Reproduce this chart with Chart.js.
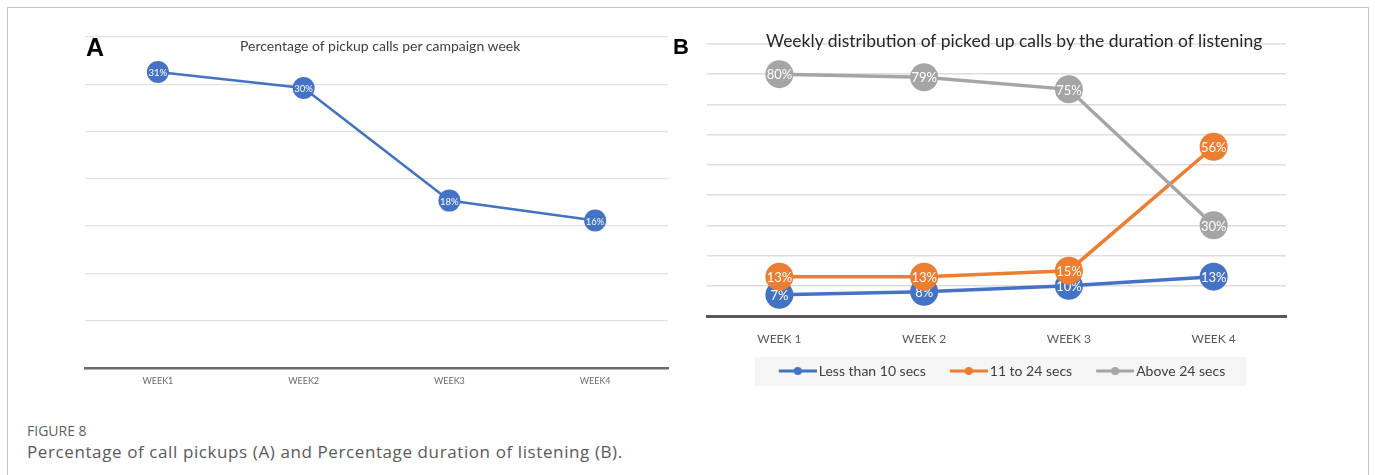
<!DOCTYPE html>
<html>
<head>
<meta charset="utf-8">
<script src="https://cdn.jsdelivr.net/npm/chart.js@4.4.1/dist/chart.umd.min.js"></script>
<style>
    body { margin: 0; background: #fff; width: 1375px; height: 475px; overflow: hidden; position: relative; font-family: Lato, sans-serif; }
    #frame { position: absolute; left: 7px; top: 7px; width: 1362px; height: 490px; border: 1px solid #c4c4c4; box-sizing: border-box; }
    canvas { position: absolute; }
    .txt { position: absolute; white-space: nowrap; line-height: 1; }
    .panel { font-family: "Liberation Sans", Arial, sans-serif; font-weight: bold; color: #000; }
</style>
</head>
<body>
<div id="frame"></div>

<canvas id="chartA" width="606" height="370" style="left:74px; top:26px;"></canvas>
<canvas id="chartB" width="610" height="358" style="left:690px; top:30px;"></canvas>

<div class="txt panel" style="left:86px; top:35px; font-size:25px;">A</div>
<div class="txt" style="left:240px; top:39px; font-size:14px; color:#404040;">Percentage of pickup calls per campaign week</div>
<div class="txt panel" style="left:673px; top:36px; font-size:22px;">B</div>
<div class="txt" style="left:766px; top:32px; font-size:17.5px; color:#262626;">Weekly distribution of picked up calls by the duration of listening</div>

<div class="txt" style="left:27px; top:424px; font-family:'Open Sans'; font-size:14px; color:#5f5f5f;">FIGURE 8</div>
<div class="txt" style="left:27px; top:443px; font-family:'Open Sans'; font-size:17px; letter-spacing:0.6px; color:#5a5a5a;">Percentage of call pickups (A) and Percentage duration of listening (B).</div>

<script>
// ----- data -----
const weeksA = ["WEEK1", "WEEK2", "WEEK3", "WEEK4"];
const pickupPct = [31.3, 29.6, 17.7, 15.6]; // shown rounded

const weeksB = ["WEEK 1", "WEEK 2", "WEEK 3", "WEEK 4"];
const seriesNames = ["Less than 10 secs", "11 to 24 secs", "Above 24 secs"];
const lessThan10 = [7, 8, 10, 13];
const from11to24 = [13, 13, 15, 56];
const above24 = [80, 79, 75, 30];

const BLUE = "#4472c4", ORANGE = "#ed7d31", GRAY = "#a5a5a5";

// white % labels drawn inside each marker, right after its dataset
const pointLabels = {
    id: "pointLabels",
    afterDatasetDraw(chart, args, opts) {
        const ctx = chart.ctx;
        const ds = chart.data.datasets[args.index];
        ctx.save();
        ctx.font = opts.font;
        ctx.fillStyle = "#ffffff";
        ctx.textAlign = "center";
        ctx.textBaseline = "middle";
        args.meta.data.forEach((pt, i) => {
            ctx.fillText(Math.round(ds.data[i]) + "%", pt.x, pt.y + 1);
        });
        ctx.restore();
    }
};

// light box behind the legend of chart B
const legendBox = {
    id: "legendBox",
    beforeDraw(chart) {
        const lg = chart.legend;
        if (!lg || !lg.legendHitBoxes || !lg.legendHitBoxes.length) return;
        const hb = lg.legendHitBoxes;
        const left = Math.min(...hb.map(h => h.left)) - 10;
        const right = Math.max(...hb.map(h => h.left + h.width)) + 21;
        const top = hb[0].top - 7;
        const ctx = chart.ctx;
        ctx.save();
        ctx.fillStyle = "#f5f5f5";
        ctx.fillRect(left, top, right - left, hb[0].height + 15);
        ctx.restore();
    }
};

// Excel style legend marker: line with a dot, transparent on the left for spacing
function legendMarker(color) {
    const c = document.createElement("canvas");
    c.width = 57;
    c.height = 10;
    const g = c.getContext("2d");
    g.strokeStyle = color;
    g.lineWidth = 3;
    g.beginPath();
    g.moveTo(19, 5);
    g.lineTo(57, 5);
    g.stroke();
    g.fillStyle = color;
    g.beginPath();
    g.arc(38, 5, 4, 0, Math.PI * 2);
    g.fill();
    return c;
}

// ----- chart A -----
new Chart(document.getElementById("chartA"), {
    type: "line",
    data: {
        labels: weeksA,
        datasets: [{
            data: pickupPct,
            borderColor: BLUE,
            backgroundColor: BLUE,
            borderWidth: 2.5,
            pointRadius: 11,
            pointHoverRadius: 11,
            pointBorderWidth: 0,
            tension: 0,
            clip: false
        }]
    },
    options: {
        responsive: false,
        animation: false,
        events: [],
        layout: { padding: { left: 5, right: 12, top: 10, bottom: 0 } },
        plugins: {
            legend: { display: false },
            tooltip: { enabled: false },
            pointLabels: { font: "9.5px Lato" }
        },
        scales: {
            x: {
                offset: true,
                grid: { display: false, drawTicks: false },
                border: { color: "#6a6a6a", width: 2.5 },
                ticks: { color: "#6b6b6b", font: { family: "Lato", size: 9 }, padding: 8 },
                afterFit(s) { s.height = 28; }
            },
            y: {
                min: 0,
                max: 35,
                ticks: { display: false, stepSize: 5 },
                border: { display: false },
                grid: { color: "#e2e2e2", lineWidth: 1.3, drawTicks: false },
                afterFit(s) { s.width = 0; }
            }
        }
    },
    plugins: [pointLabels]
});

// ----- chart B -----
// datasets listed top-most first so gray sits over orange over blue
new Chart(document.getElementById("chartB"), {
    type: "line",
    data: {
        labels: weeksB,
        datasets: [
            { label: seriesNames[2], data: above24, borderColor: GRAY, backgroundColor: GRAY },
            { label: seriesNames[1], data: from11to24, borderColor: ORANGE, backgroundColor: ORANGE },
            { label: seriesNames[0], data: lessThan10, borderColor: BLUE, backgroundColor: BLUE }
        ].map(d => Object.assign(d, {
            borderWidth: 3.5,
            pointRadius: 14,
            pointHoverRadius: 14,
            pointBorderWidth: 0,
            tension: 0,
            clip: false
        }))
    },
    options: {
        responsive: false,
        animation: false,
        events: [],
        layout: { padding: { left: 0, right: 0, top: 12, bottom: 0 } },
        plugins: {
            tooltip: { enabled: false },
            pointLabels: { font: "13px Lato" },
            legend: {
                position: "bottom",
                reverse: true,
                labels: {
                    color: "#404040",
                    font: { family: "Lato", size: 14 },
                    usePointStyle: true,
                    pointStyleWidth: 47,
                    padding: 10,
                    generateLabels(chart) {
                        const items = Chart.defaults.plugins.legend.labels.generateLabels(chart);
                        items.forEach(it => { it.pointStyle = legendMarker(it.strokeStyle); });
                        return items;
                    }
                }
            }
        },
        scales: {
            x: {
                offset: true,
                grid: { display: false, drawTicks: false },
                border: { color: "#595959", width: 3 },
                ticks: { color: "#595959", font: { family: "Lato", size: 12 }, padding: 16 },
                afterFit(s) { s.height = 38; }
            },
            y: {
                min: 0,
                max: 90,
                ticks: { display: false, stepSize: 10 },
                border: { display: false },
                grid: { color: "#dedede", lineWidth: 1.5, drawTicks: false },
                afterFit(s) { s.width = 17; }
            },
            yR: {
                position: "right",
                ticks: { display: false },
                grid: { display: false, drawTicks: false },
                border: { display: false },
                afterFit(s) { s.width = 12; }
            }
        }
    },
    plugins: [pointLabels, legendBox]
});
</script>
</body>
</html>
